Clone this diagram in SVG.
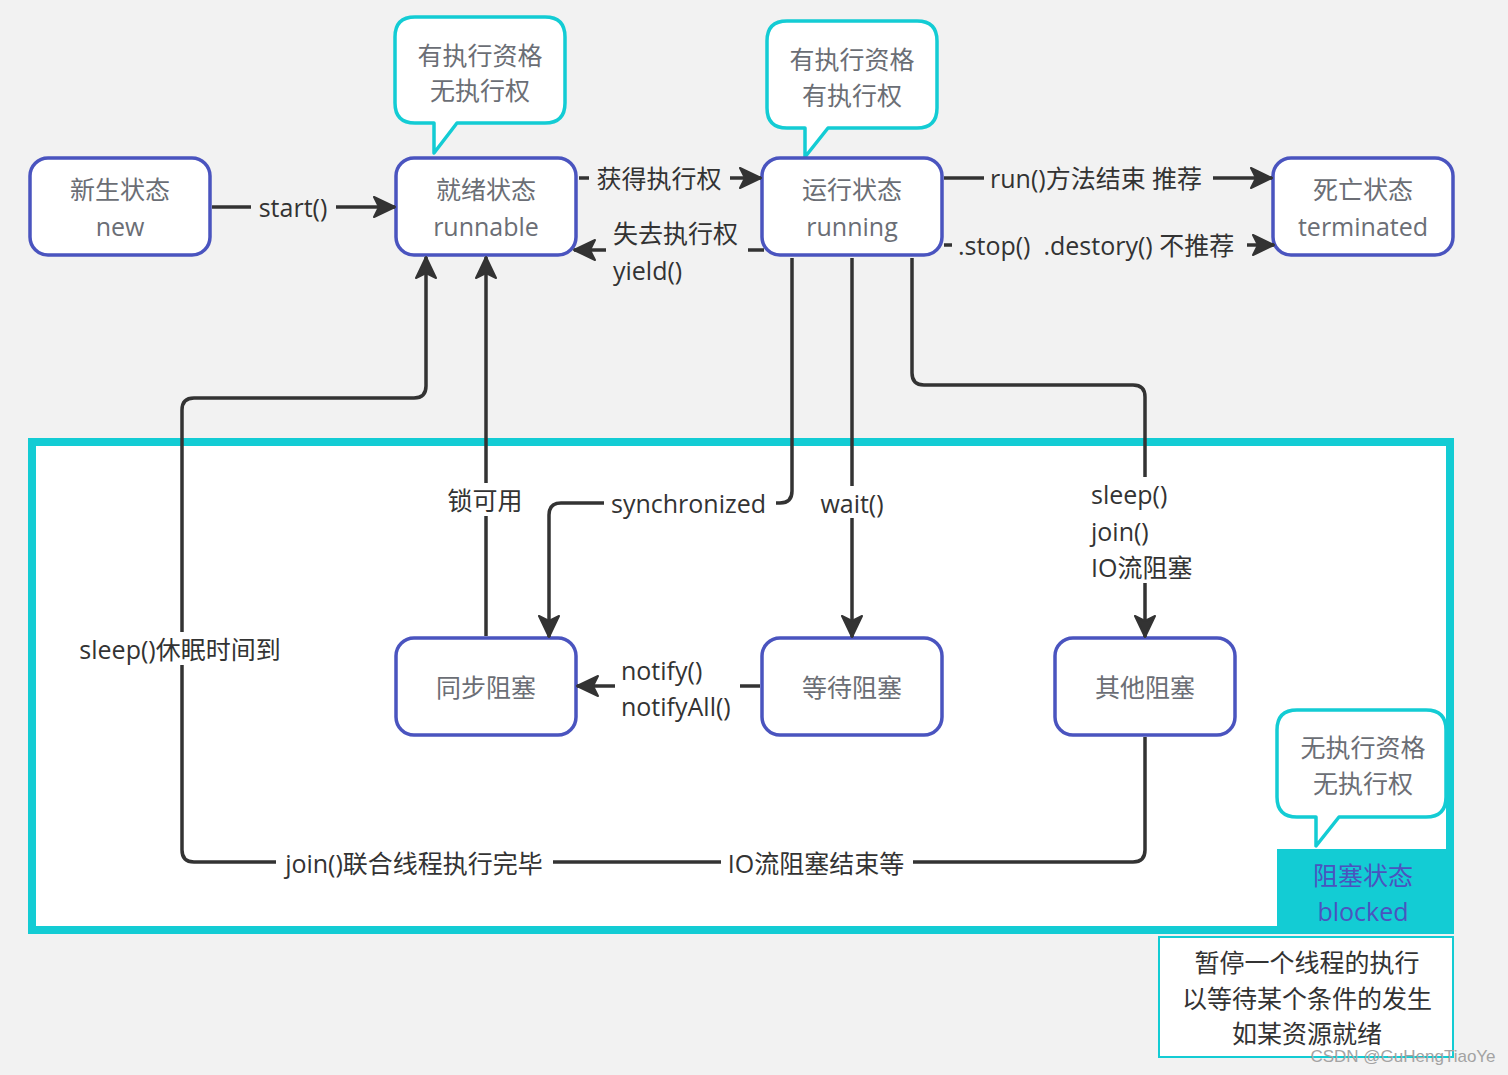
<svg xmlns="http://www.w3.org/2000/svg" width="1508" height="1075" viewBox="0 0 1508 1075">
<defs>
<style>
text{font-family:"Open Sans","Noto Sans CJK SC",sans-serif;font-size:25px;dominant-baseline:central}
.node rect{fill:#fff;stroke:#4a54bf;stroke-width:3.5}
.nt{fill:#6b6e75;text-anchor:middle}
.call{fill:#fff;stroke:#13ccd4;stroke-width:3.5;stroke-linejoin:round}
.lbl{fill:#333}
.mid{text-anchor:middle}
.conn path{fill:none;stroke:#333;stroke-width:3.5}
.arr{marker-end:url(#ah)}
</style>
<marker id="ah" markerUnits="userSpaceOnUse" markerWidth="24" markerHeight="24" viewBox="0 0 24 24" refX="22" refY="12" orient="auto">
<path d="M1,2 L22,12 L1,22 L6,12 Z" fill="#333" stroke="#333" stroke-width="2" stroke-linejoin="round"/>
</marker>
</defs>
<rect x="0" y="0" width="1508" height="1075" fill="#f2f2f2"/>

<g id="blocked-frame">
<rect x="32" y="442" width="1418" height="488" fill="#fff" stroke="#13ccd4" stroke-width="8"/>
<rect x="1277" y="849" width="177" height="85" fill="#13ccd4"/>
<text x="1363" y="875" class="mid" fill="#4a54bf">阻塞状态</text>
<text x="1363" y="911" class="mid" fill="#4a54bf">blocked</text>
</g>

<g id="blocked-desc">
<rect x="1159" y="937" width="294" height="120" fill="#fff" stroke="#13ccd4" stroke-width="2"/>
<text x="1307" y="962" class="mid" fill="#333">暂停一个线程的执行</text>
<text x="1307" y="998" class="mid" fill="#333">以等待某个条件的发生</text>
<text x="1307" y="1033" class="mid" fill="#333">如某资源就绪</text>
</g>

<g id="callout-runnable">
<path class="call" d="M415,17 H545 Q565,17 565,37 V103 Q565,123 545,123 H457 L434,153 V123 H415 Q395,123 395,103 V37 Q395,17 415,17 Z"/>
<text x="480" y="55" class="nt">有执行资格</text>
<text x="480" y="90" class="nt">无执行权</text>
</g>
<g id="callout-running">
<path class="call" d="M787,21 H917 Q937,21 937,41 V108 Q937,128 917,128 H828 L805,157 V128 H787 Q767,128 767,108 V41 Q767,21 787,21 Z"/>
<text x="852" y="59" class="nt">有执行资格</text>
<text x="852" y="95" class="nt">有执行权</text>
</g>
<g id="callout-blocked">
<path class="call" d="M1297,710 H1426 Q1446,710 1446,730 V797 Q1446,817 1426,817 H1339 L1316,846 V817 H1297 Q1277,817 1277,797 V730 Q1277,710 1297,710 Z"/>
<text x="1363" y="747" class="nt">无执行资格</text>
<text x="1363" y="783" class="nt">无执行权</text>
</g>

<g id="node-new" class="node">
<rect x="30" y="158" width="180" height="97" rx="18"/>
<text x="120" y="189" class="nt">新生状态</text>
<text x="120" y="226" class="nt">new</text>
</g>
<g id="node-runnable" class="node">
<rect x="396" y="158" width="180" height="97" rx="18"/>
<text x="486" y="189" class="nt">就绪状态</text>
<text x="486" y="226" class="nt">runnable</text>
</g>
<g id="node-running" class="node">
<rect x="762" y="158" width="180" height="97" rx="18"/>
<text x="852" y="189" class="nt">运行状态</text>
<text x="852" y="226" class="nt">running</text>
</g>
<g id="node-terminated" class="node">
<rect x="1273" y="158" width="180" height="97" rx="18"/>
<text x="1363" y="189" class="nt">死亡状态</text>
<text x="1363" y="226" class="nt">terminated</text>
</g>
<g id="node-sync" class="node">
<rect x="396" y="638" width="180" height="97" rx="18"/>
<text x="486" y="687" class="nt">同步阻塞</text>
</g>
<g id="node-wait" class="node">
<rect x="762" y="638" width="180" height="97" rx="18"/>
<text x="852" y="687" class="nt">等待阻塞</text>
</g>
<g id="node-other" class="node">
<rect x="1055" y="638" width="180" height="97" rx="18"/>
<text x="1145" y="687" class="nt">其他阻塞</text>
</g>

<g id="connectors" class="conn">
<path d="M212,207 H251"/>
<path class="arr" d="M336,207 H395"/>
<text x="293" y="207" class="lbl mid">start()</text>

<path d="M579,178 H589"/>
<path class="arr" d="M730,178 H761"/>
<text x="659" y="178" class="lbl mid">获得执行权</text>

<path d="M764,250 H748"/>
<path class="arr" d="M606,250 H574"/>
<text x="613" y="233" class="lbl">失去执行权</text>
<text x="613" y="270" class="lbl">yield()</text>

<path d="M944,178 H984"/>
<path class="arr" d="M1213,178 H1272"/>
<text x="990" y="178" class="lbl">run()方法结束 推荐</text>

<path d="M944,245 H952"/>
<path class="arr" d="M1247,245 H1274"/>
<text x="958" y="245" class="lbl" xml:space="preserve">.stop()  .destory() 不推荐</text>

<path d="M792,258 V491 Q792,503 780,503 H776"/>
<path class="arr" d="M604,503 H561 Q549,503 549,515 V637"/>
<text x="611" y="503" class="lbl">synchronized</text>

<path d="M852,258 V486"/>
<path class="arr" d="M852,518 V637"/>
<text x="852" y="503" class="lbl mid">wait()</text>

<path d="M912,258 V373 Q912,385 924,385 H1133 Q1145,385 1145,397 V477"/>
<path class="arr" d="M1145,583 V637"/>
<text x="1091" y="494" class="lbl">sleep()</text>
<text x="1091" y="531" class="lbl">join()</text>
<text x="1091" y="567" class="lbl">IO流阻塞</text>

<path d="M486,636 V516"/>
<path class="arr" d="M486,483 V257"/>
<text x="485" y="500" class="lbl mid">锁可用</text>

<path d="M760,686 H740"/>
<path class="arr" d="M615,686 H577"/>
<text x="621" y="670" class="lbl">notify()</text>
<text x="621" y="706" class="lbl">notifyAll()</text>

<path d="M1145,737 V850 Q1145,862 1133,862 H913"/>
<path d="M721,862 H553"/>
<path d="M276,862 H194 Q182,862 182,850 V665"/>
<path class="arr" d="M182,632 V410 Q182,398 194,398 H414 Q426,398 426,386 V257"/>
<text x="816" y="863" class="lbl mid">IO流阻塞结束等</text>
<text x="414" y="863" class="lbl mid">join()联合线程执行完毕</text>
<text x="180" y="649" class="lbl mid">sleep()休眠时间到</text>
</g>

<text x="1403" y="1056" style="font-family:'Liberation Sans',sans-serif;font-size:17px" fill="#a3a3a3" text-anchor="middle">CSDN @GuHengTiaoYe</text>
</svg>
